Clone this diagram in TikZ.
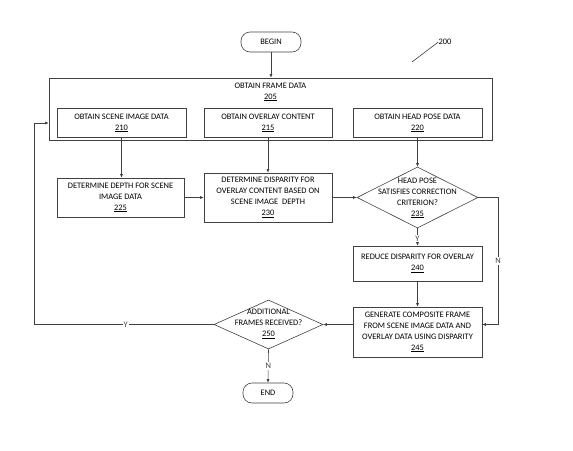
\documentclass[tikz,border=0pt]{standalone}
\usepackage{fontspec}
\setmainfont{Carlito}
\usepackage{tikz}
\usetikzlibrary{arrows.meta}
\usetikzlibrary{shapes.geometric}

\begin{document}
\begin{tikzpicture}[x=1pt, y=-1pt, font=\fontsize{8.4}{11}\selectfont,
    line width=0.6pt, draw=black!75,
    procbox/.style={draw=black!75, rectangle, align=center, inner sep=0pt},
    termbox/.style={draw=black!75, rectangle, rounded corners=9pt, inner sep=0pt, minimum height=20pt},
    decbox/.style={draw=black!75, diamond, inner sep=0pt},
    plain/.style={align=center, inner sep=0pt},
    flow/.style={black!75, -{Latex[length=3.5pt, width=3pt]}},
    yesno/.style={fill=white, inner sep=1pt}]
    \useasboundingbox (0, 0) rectangle (573, 450);
    \node[termbox, minimum width=60pt] (begin) at (271, 42) {BEGIN};
    \node[plain] (ref200) at (445, 42) {200};
    \coordinate (ref200end) at (412, 62);
    \draw[black!75] (ref200end) -- (ref200.west);
    \node[procbox, minimum width=443pt, minimum height=62pt] (s205) at (270.5, 109) {};
    \node[plain] (t205) at (270.5, 92) {OBTAIN FRAME DATA\\\underline{205}};
    \node[procbox, minimum width=129pt, minimum height=29pt] (s210) at (121.5, 123) {OBTAIN SCENE IMAGE DATA\\\underline{210}};
    \node[procbox, minimum width=128pt, minimum height=29pt] (s215) at (268, 123) {OBTAIN OVERLAY CONTENT\\\underline{215}};
    \node[procbox, minimum width=129pt, minimum height=29pt] (s220) at (417.5, 123) {OBTAIN HEAD POSE DATA\\\underline{220}};
    \node[procbox, minimum width=127pt, minimum height=39pt] (s225) at (120.5, 197.5) {DETERMINE DEPTH FOR SCENE\\IMAGE DATA\\\underline{225}};
    \node[procbox, minimum width=128pt, minimum height=49pt] (s230) at (268, 197.5) {DETERMINE DISPARITY FOR\\OVERLAY CONTENT BASED ON\\SCENE IMAGE\ \ DEPTH\\\underline{230}};
    \node[decbox, minimum width=121pt, minimum height=61pt] (s235) at (417.5, 197.5) {};
    \node[plain] (t235) at (417.5, 198) {HEAD POSE\\SATISFIES CORRECTION\\CRITERION?\\\underline{235}};
    \node[procbox, minimum width=129pt, minimum height=35pt] (s240) at (417.5, 263.5) {REDUCE DISPARITY FOR OVERLAY\\\underline{240}};
    \node[procbox, minimum width=129pt, minimum height=50pt] (s245) at (417.5, 332) {GENERATE COMPOSITE FRAME\\FROM SCENE IMAGE DATA AND\\OVERLAY DATA USING DISPARITY\\\underline{245}};
    \node[decbox, minimum width=109pt, minimum height=49pt] (s250) at (268.5, 324.5) {};
    \node[plain] (t250) at (268.5, 324) {ADDITIONAL\\FRAMES RECEIVED?\\\underline{250}};
    \node[termbox, minimum width=50pt] (end) at (268, 393) {END};
    \coordinate (nturn) at (498, 197.5);
    \coordinate (yturn) at (34, 324.5);
    \draw[flow] (begin) -- (begin |- s205.north);
    \draw[flow] (s210.south) -- (s210.south |- s225.north);
    \draw[flow] (s215.south) -- (s215.south |- s230.north);
    \draw[flow] (s220.south) -- (s220.south |- s235.north);
    \draw[flow] (s225.east) -- (s230.west);
    \draw[flow] (s230.east) -- (s235.west);
    \draw[flow] (s235.south) -- node[yesno, pos=0.6] {Y} (s240.north);
    \draw[flow] (s235.east) -- (nturn) -- node[yesno] {N} (nturn |- s250) -- (s245.east |- s250);
    \draw[flow] (s240.south) -- (s245.north);
    \draw[flow] (s245.west |- s250) -- (s250.east);
    \draw[flow] (s250.south) -- node[yesno] {N} (end.north);
    \draw[flow] (s250.west) -- node[yesno, pos=0.49] {Y} (yturn) -- (yturn |- s210) -- (s205.west |- s210);
\end{tikzpicture}
\end{document}
